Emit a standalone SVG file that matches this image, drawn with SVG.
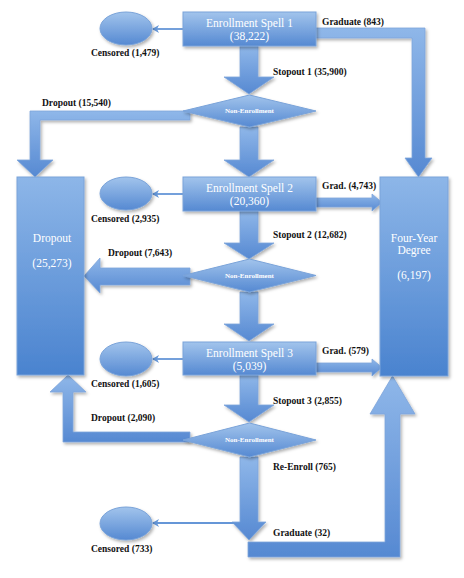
<svg xmlns="http://www.w3.org/2000/svg" width="464" height="578" viewBox="0 0 464 578">
<defs>
<linearGradient id="gBox" x1="0" y1="0" x2="0" y2="1">
<stop offset="0" stop-color="#A2C4EC"/>
<stop offset="1" stop-color="#5589D2"/>
</linearGradient>
<linearGradient id="gTall" x1="0" y1="0" x2="0" y2="1">
<stop offset="0" stop-color="#8DB6E8"/>
<stop offset="1" stop-color="#4A83CF"/>
</linearGradient>
<linearGradient id="gArrow" x1="0" y1="0" x2="0" y2="1">
<stop offset="0" stop-color="#8FB7E9"/>
<stop offset="1" stop-color="#5689D2"/>
</linearGradient>
<filter id="sh" x="-20%" y="-20%" width="140%" height="140%">
<feDropShadow dx="1.5" dy="2" stdDeviation="1.5" flood-color="#000" flood-opacity="0.3"/>
</filter>
<marker id="ah" markerWidth="8" markerHeight="8" refX="6" refY="4" orient="auto" markerUnits="userSpaceOnUse">
<path d="M0,0 L7,4 L0,8 L2,4 Z" fill="#6596D7"/>
</marker>
</defs>
<style>
.box{fill:url(#gBox);stroke:#7AA3D9;stroke-width:1;filter:url(#sh)}
.tall{fill:url(#gTall);stroke:#7AA3D9;stroke-width:1;filter:url(#sh)}
.arr{fill:url(#gArrow);stroke:#7DA5DA;stroke-width:0.8;filter:url(#sh)}
.ell{fill:url(#gBox);stroke:#7AA3D9;stroke-width:1;filter:url(#sh)}
.thin{stroke:#6596D7;stroke-width:1.8;fill:none;marker-end:url(#ah)}
.bt{font-family:"Liberation Serif",serif;font-size:11.5px;fill:#fff;text-anchor:middle}
.dt{font-family:"Liberation Serif",serif;font-size:7px;font-weight:bold;fill:#fff;text-anchor:middle}
.lb{font-family:"Liberation Serif",serif;font-size:9.5px;font-weight:bold;fill:#111}
</style>
<rect width="464" height="578" fill="#fff"/>

<g id="connectors">
<polygon class="arr" points="240,46 258,46 258,77 274,77 249,94 224,77 240,77"/>
<polygon class="arr" points="240,127 258,127 258,160 274,160 249,177 224,160 240,160"/>
<polygon class="arr" points="240,211 258,211 258,243 274,243 249,259 224,243 240,243"/>
<polygon class="arr" points="240,292 258,292 258,324 274,324 249,341 224,324 240,324"/>
<polygon class="arr" points="240,375 258,375 258,405 274,405 249,422 224,405 240,405"/>
<polygon class="arr" points="240,457 258,457 258,522 266,522 249,540 232,522 240,522"/>
<polygon class="arr" points="190,111 190,120 40,120 40,160 53,160 35,177 17,160 30,160 30,111"/>
<polygon class="arr" points="190,268 190,285 100,285 100,293 84,276 100,258 100,268"/>
<polygon class="arr" points="190,432 190,442 63,442 63,392 50,392 68,375 86,392 73,392 73,432"/>
<polygon class="arr" points="314,28 425,28 425,158 432,158 418.5,177 405,158 412,158 412,38 314,38"/>
<polygon class="arr" points="316,198 372,198 372,194 382,202.5 372,211 372,207 316,207"/>
<polygon class="arr" points="316,363 372,363 372,359 382,367.5 372,376 372,372 316,372"/>
<polygon class="arr" points="248,542 385,542 385,414 370,414 392.5,376 415,414 400,414 400,557 248,557"/>
<line class="thin" x1="183" y1="29" x2="153" y2="29"/>
<line class="thin" x1="183" y1="194" x2="153" y2="194"/>
<line class="thin" x1="183" y1="359" x2="153" y2="359"/>
<line class="thin" x1="234" y1="523" x2="153" y2="523"/>
<text class="lb" x="322" y="25">Graduate (843)</text>
<text class="lb" x="273" y="75">Stopout 1 (35,900)</text>
<text class="lb" x="42" y="106">Dropout (15,540)</text>
<text class="lb" x="322" y="189">Grad. (4,743)</text>
<text class="lb" x="273" y="238">Stopout 2 (12,682)</text>
<text class="lb" x="108" y="256">Dropout (7,643)</text>
<text class="lb" x="322" y="354">Grad. (579)</text>
<text class="lb" x="273" y="404">Stopout 3 (2,855)</text>
<text class="lb" x="91" y="421">Dropout (2,090)</text>
<text class="lb" x="273" y="470">Re-Enroll (765)</text>
<text class="lb" x="273" y="536">Graduate (32)</text>
</g>

<g id="spell1">
<rect class="box" x="183" y="12" width="133" height="34"/>
<text class="bt" x="249.5" y="27">Enrollment Spell 1</text>
<text class="bt" x="249.5" y="39.5">(38,222)</text>
</g>
<g id="nonenroll1">
<polygon class="box" points="183,111 249.5,95 316,111 249.5,127"/>
<text class="dt" x="249.5" y="113">Non-Enrollment</text>
</g>
<g id="spell2">
<rect class="box" x="183" y="177" width="133" height="34"/>
<text class="bt" x="249.5" y="192">Enrollment Spell 2</text>
<text class="bt" x="249.5" y="204.5">(20,360)</text>
</g>
<g id="nonenroll2">
<polygon class="box" points="183,275.5 249.5,259 316,275.5 249.5,292"/>
<text class="dt" x="249.5" y="278">Non-Enrollment</text>
</g>
<g id="spell3">
<rect class="box" x="183" y="342" width="133" height="33"/>
<text class="bt" x="249.5" y="357">Enrollment Spell 3</text>
<text class="bt" x="249.5" y="369.5">(5,039)</text>
</g>
<g id="nonenroll3">
<polygon class="box" points="183,440 249.5,423 316,440 249.5,457"/>
<text class="dt" x="249.5" y="442">Non-Enrollment</text>
</g>
<g id="censored1">
<ellipse class="ell" cx="126" cy="28.5" rx="26" ry="16.5"/>
<text class="lb" x="91" y="56">Censored (1,479)</text>
</g>
<g id="censored2">
<ellipse class="ell" cx="126" cy="193.5" rx="26" ry="16.5"/>
<text class="lb" x="91" y="222">Censored (2,935)</text>
</g>
<g id="censored3">
<ellipse class="ell" cx="126" cy="359" rx="26" ry="17"/>
<text class="lb" x="91" y="387">Censored (1,605)</text>
</g>
<g id="censored4">
<ellipse class="ell" cx="126" cy="523.5" rx="26" ry="16.5"/>
<text class="lb" x="91" y="552">Censored (733)</text>
</g>
<g id="dropout">
<rect class="tall" x="17" y="177" width="67" height="198"/>
<text class="bt" x="52" y="242">Dropout</text>
<text class="bt" x="52" y="267">(25,273)</text>
</g>
<g id="degree">
<rect class="tall" x="380" y="177" width="68" height="199"/>
<text class="bt" x="414" y="242">Four-Year</text>
<text class="bt" x="414" y="254">Degree</text>
<text class="bt" x="414" y="279">(6,197)</text>
</g>
</svg>
